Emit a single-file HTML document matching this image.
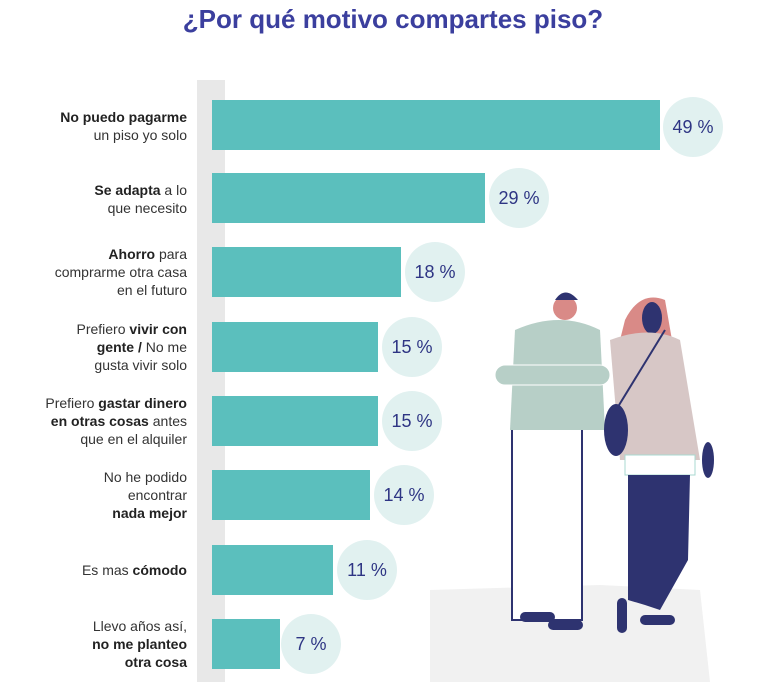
<!DOCTYPE html>
<html><head><meta charset="utf-8"><style>
body{margin:0;width:768px;height:682px;background:#fff;position:relative;overflow:hidden;font-family:"Liberation Sans",sans-serif}
.t{position:absolute;top:4px;left:0;width:786px;text-align:center;font-size:26px;font-weight:bold;color:#3b3f9e}
.strip{position:absolute;left:197px;top:80px;width:28px;height:602px;background:#e8e8e8}
.bar{position:absolute;left:212px;height:50px;background:#5bbfbd}
.c{position:absolute;width:60px;height:60px;border-radius:50%;background:#e1f1f0;color:#2e3584;font-size:18px;line-height:60px;text-align:center}
.l{position:absolute;right:581px;text-align:right;font-size:14px;line-height:18px;color:#333;transform:translateY(-50%)}
b{color:#222}
</style></head><body>
<div class="t">¿Por qué motivo compartes piso?</div>
<svg style="position:absolute;left:0;top:0" width="768" height="682">
<path d="M430 590 L600 585 L700 590 L710 682 L430 682Z" fill="#f1f1f1"/>
<!-- man -->
<rect x="512" y="420" width="70" height="200" fill="#fff" stroke="#2e3370" stroke-width="2"/>
<rect x="520" y="612" width="35" height="10" rx="5" fill="#2e3370"/>
<rect x="548" y="620" width="35" height="10" rx="5" fill="#2e3370"/>
<path d="M515 330 Q560 310 600 330 L605 430 L510 430 Z" fill="#b7cfc7"/>
<rect x="495" y="365" width="115" height="20" rx="10" fill="#b7cfc7" stroke="#fff"/>
<circle cx="565" cy="308" r="12" fill="#d98a87"/>
<path d="M555 300 Q565 285 578 300Z" fill="#2e3370"/>
<!-- woman -->
<path d="M625 320 Q640 290 665 300 L672 340 L620 340Z" fill="#d98a87"/>
<ellipse cx="652" cy="318" rx="10" ry="16" fill="#2e3370"/>
<path d="M610 340 Q650 325 680 340 L700 460 L620 460 Z" fill="#d7c7c6"/>
<rect x="625" y="455" width="70" height="20" fill="#fff" stroke="#a8d8d0"/>
<path d="M628 475 L690 475 L688 560 L660 610 L645 605 L628 600Z" fill="#2e3370"/>
<rect x="640" y="615" width="35" height="10" rx="5" fill="#2e3370"/>
<rect x="617" y="598" width="10" height="35" rx="5" fill="#2e3370"/>
<ellipse cx="616" cy="430" rx="12" ry="26" fill="#2e3370"/>
<path d="M616 410 L665 330" stroke="#2e3370" stroke-width="2"/>
<ellipse cx="708" cy="460" rx="6" ry="18" fill="#2e3370"/>
</svg>
<div class="strip"></div>
<div class="bar" style="top:100px;width:448px"></div><div class="c" style="left:663px;top:97px">49 %</div>
<div class="bar" style="top:173px;width:273px"></div><div class="c" style="left:489px;top:168px">29 %</div>
<div class="bar" style="top:247px;width:189px"></div><div class="c" style="left:405px;top:242px">18 %</div>
<div class="bar" style="top:322px;width:166px"></div><div class="c" style="left:382px;top:317px">15 %</div>
<div class="bar" style="top:396px;width:166px"></div><div class="c" style="left:382px;top:391px">15 %</div>
<div class="bar" style="top:470px;width:158px"></div><div class="c" style="left:374px;top:465px">14 %</div>
<div class="bar" style="top:545px;width:121px"></div><div class="c" style="left:337px;top:540px">11 %</div>
<div class="bar" style="top:619px;width:68px"></div><div class="c" style="left:281px;top:614px">7 %</div>
<div class="l" style="top:126px"><b>No puedo pagarme</b><br>un piso yo solo</div>
<div class="l" style="top:199px"><b>Se adapta</b> a lo<br>que necesito</div>
<div class="l" style="top:272px"><b>Ahorro</b> para<br>comprarme otra casa<br>en el futuro</div>
<div class="l" style="top:347px">Prefiero <b>vivir con<br>gente /</b> No me<br>gusta vivir solo</div>
<div class="l" style="top:421px">Prefiero <b>gastar dinero<br>en otras cosas</b> antes<br>que en el alquiler</div>
<div class="l" style="top:495px">No he podido<br>encontrar<br><b>nada mejor</b></div>
<div class="l" style="top:570px">Es mas <b>cómodo</b></div>
<div class="l" style="top:644px">Llevo años así,<br><b>no me planteo<br>otra cosa</b></div>
</body></html>
